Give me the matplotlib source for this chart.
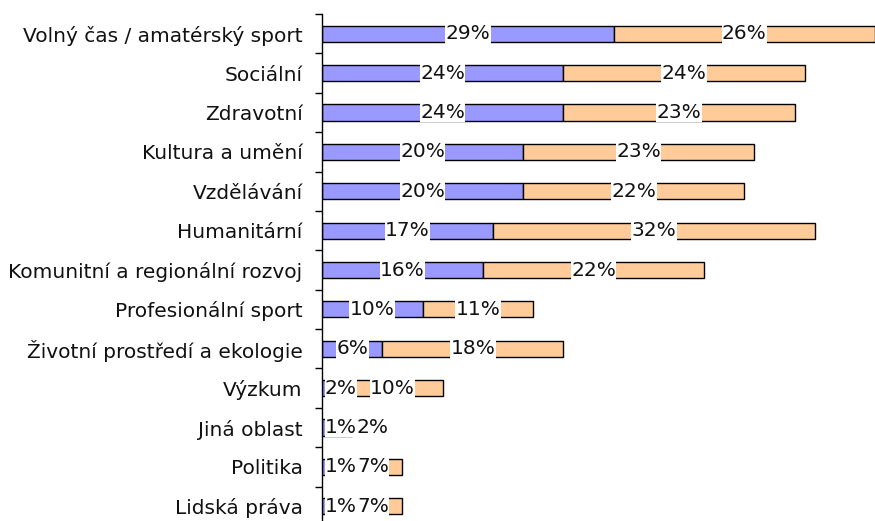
import matplotlib.pyplot as plt
import numpy as np
from matplotlib.transforms import offset_copy

# ====== DATA ======
categories = [
    "Volný čas / amatérský sport",
    "Sociální",
    "Zdravotní",
    "Kultura a umění",
    "Vzdělávání",
    "Humanitární",
    "Komunitní a regionální rozvoj",
    "Profesionální sport",
    "Životní prostředí a ekologie",
    "Výzkum",
    "Jiná oblast",
    "Politika",
    "Lidská práva",
]
first_vals = [29, 24, 24, 20, 20, 17, 16, 10, 6, 2, 1, 1, 1]
second_vals = [26, 24, 23, 23, 22, 32, 22, 11, 18, 10, 2, 7, 7]

PURPLE = "#9999ff"
ORANGE = "#ffcc99"
FS = 14.5

plt.rcParams["font.family"] = ["DejaVu Sans"]

fig = plt.figure(figsize=(8.75, 5.21), dpi=100)
# axes placed in pixel terms; bottom runs slightly past the figure (cropped like the original)
ax = fig.add_axes([322 / 875, -5 / 521, 553 / 875, 512 / 521])

y = np.arange(len(categories))
first = np.array(first_vals)
second = np.array(second_vals)

ax.barh(y, first, height=0.41, color=PURPLE, edgecolor="black", linewidth=1)
ax.barh(y, second, left=first, height=0.41, color=ORANGE, edgecolor="black", linewidth=1)

ax.set_xlim(0, 55)
ax.set_ylim(len(categories) - 0.5, -0.5)

# value labels in the middle of each segment, white box behind
labels = []
for i in range(len(categories)):
    row = []
    for start, val in ((0, first[i]), (first[i], second[i])):
        t = ax.text(start + val / 2, y[i], f"{val}%", ha="center", va="center",
                    fontsize=FS, color="#111111",
                    bbox=dict(facecolor="white", edgecolor="none", pad=0.3))
        row.append(t)
    labels.append(row)

# push small labels right so they don't run past the axis or into each other
fig.canvas.draw()
renderer = fig.canvas.get_renderer()
x_axis_left = ax.transAxes.transform((0, 0))[0] + 3
for row in labels:
    prev_right = x_axis_left
    for t in row:
        bb = t.get_window_extent(renderer)
        shift = max(0, prev_right - bb.x0)
        if shift > 0:
            t.set_transform(offset_copy(ax.transData, fig=fig, x=shift, y=0, units="dots"))
        prev_right = bb.x1 + shift

ax.set_yticks(y)
ax.set_yticklabels(categories, fontsize=FS, color="#111111")
ax.set_yticks(np.arange(len(categories) + 1) - 0.5, minor=True)
ax.tick_params(axis="y", which="major", length=0, pad=14)
ax.tick_params(axis="y", which="minor", length=5, width=1, direction="out")
ax.set_xticks([])

for side in ("top", "right", "bottom"):
    ax.spines[side].set_visible(False)
ax.spines["left"].set_linewidth(1)

fig.savefig("out.png", dpi=100)
